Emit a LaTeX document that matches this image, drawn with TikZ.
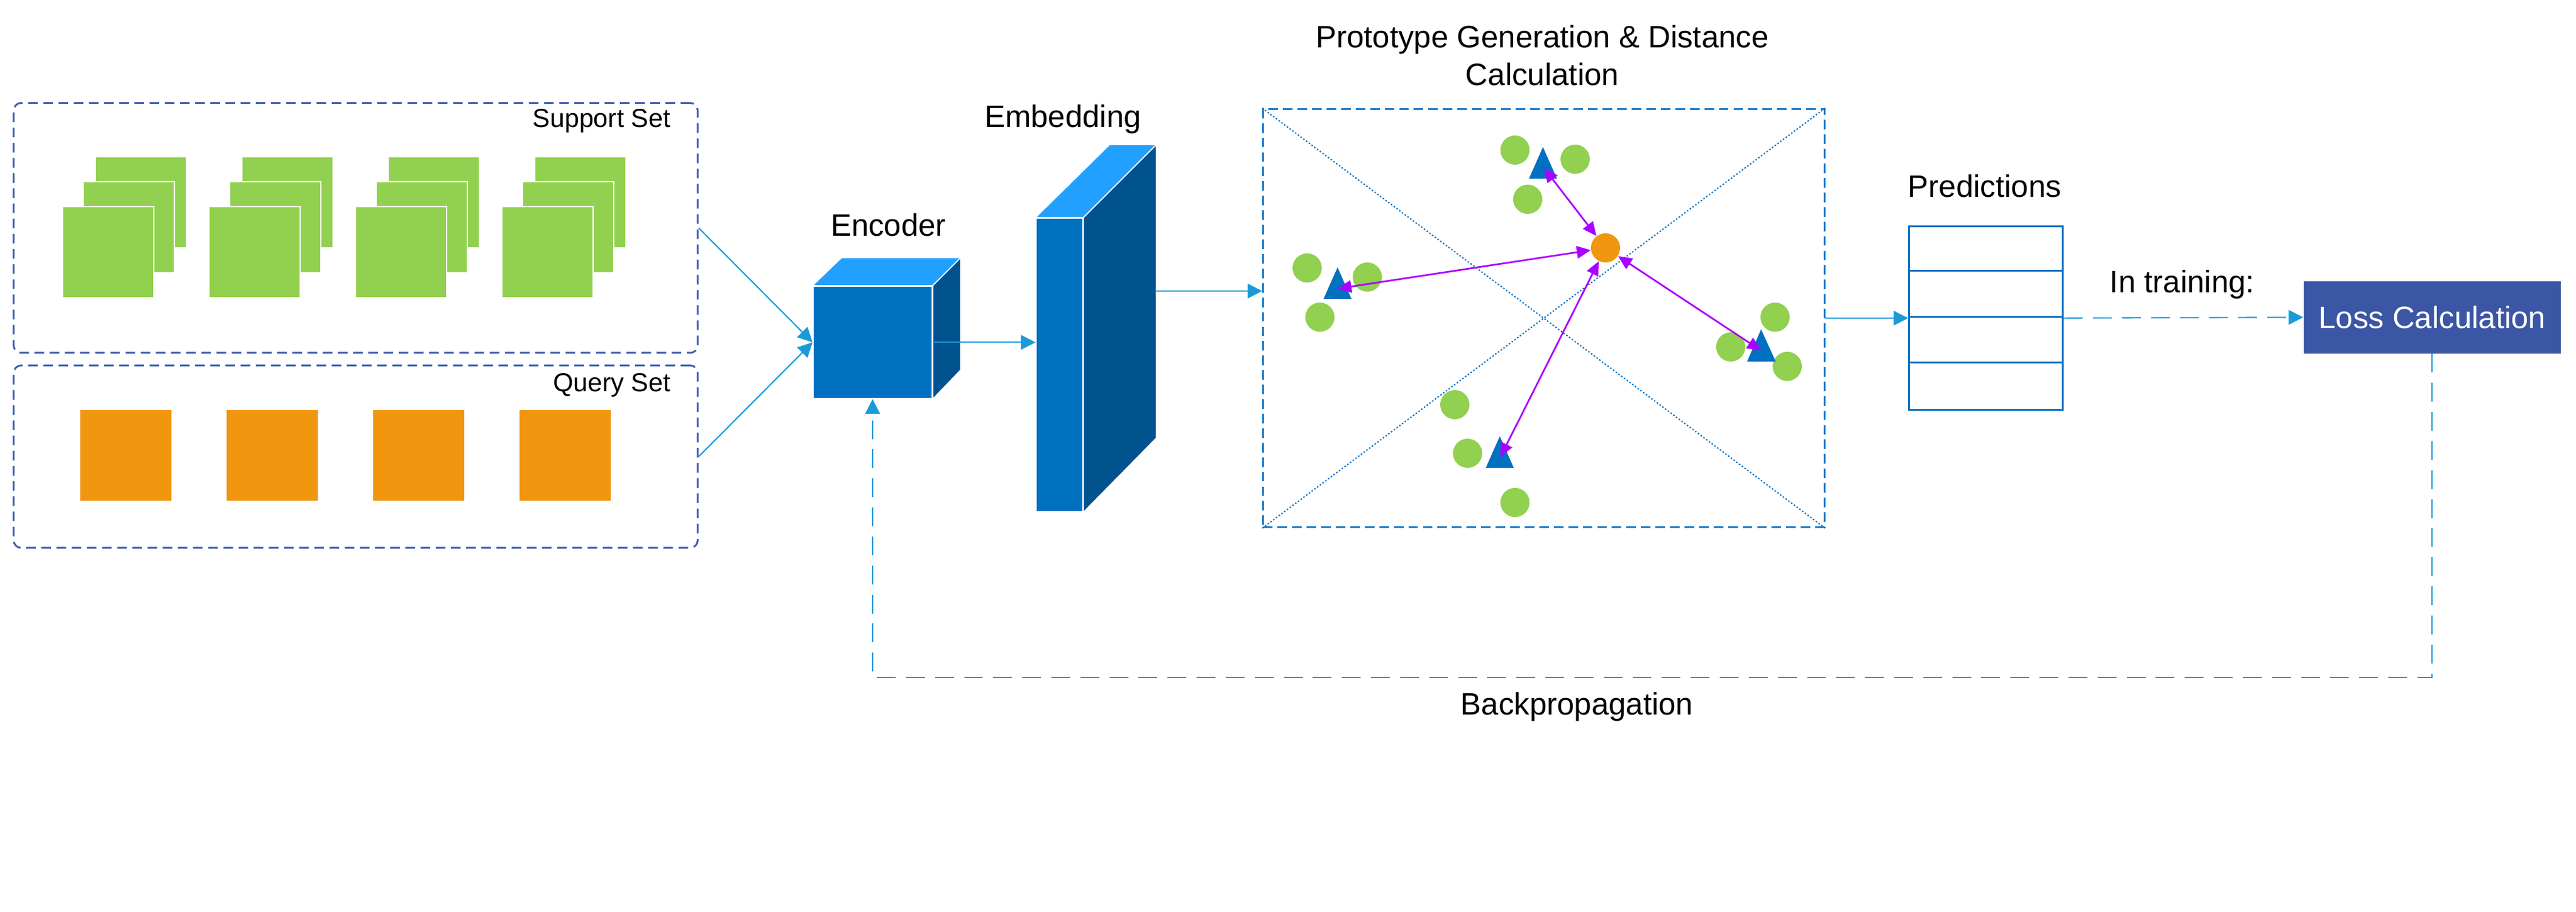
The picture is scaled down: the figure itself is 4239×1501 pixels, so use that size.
\documentclass[tikz,border=0pt]{standalone}
\usepackage{fontspec}
\setmainfont{Liberation Sans}
\usetikzlibrary{arrows.meta}
\definecolor{sqgreen}{HTML}{92D050}
\definecolor{sqorange}{HTML}{F0960F}
\definecolor{frontblue}{HTML}{0070C0}
\definecolor{topblue}{HTML}{21A0FF}
\definecolor{sideblue}{HTML}{00538E}
\definecolor{setborder}{HTML}{3F5FB0}
\definecolor{connblue}{HTML}{1B9AD8}
\definecolor{protoborder}{HTML}{1A7DCF}
\definecolor{lossblue}{HTML}{3B56A4}
\definecolor{arrpurple}{HTML}{AA00FF}
\begin{document}
\begin{tikzpicture}[x=0.01cm,y=-0.01cm,
  lbl/.style={font=\fontsize{14.5pt}{17.6pt}\selectfont, inner sep=0, anchor=base},
  slbl/.style={font=\fontsize{12.2pt}{14.6pt}\selectfont, inner sep=0, anchor=base east},
  setbox/.style={draw=setborder, line width=0.85pt, dash pattern=on 4.5pt off 2.6pt, rounded corners=3.5pt, inner sep=0, anchor=north west},
  gsq/.style={fill=sqgreen, draw=white, line width=0.5pt},
  osq/.style={fill=sqorange},
  face/.style={draw=white, line width=0.5pt},
  frontface/.style={fill=frontblue, face, inner sep=0, anchor=north west},
  conn/.style={draw=connblue, line width=0.6pt, -{Triangle[length=6.8pt,width=6.8pt]}},
  dconn/.style={conn, dash pattern=on 8.8pt off 4.8pt},
  diag/.style={draw=frontblue, line width=0.6pt, dash pattern=on 0.7pt off 0.9pt},
  gdot/.style={circle, fill=sqgreen, minimum size=0.48cm, inner sep=0},
  tri/.style={fill=frontblue},
  parr/.style={draw=arrpurple, line width=0.8pt, {Triangle[length=6.5pt,width=5.8pt]}-{Triangle[length=6.5pt,width=5.8pt]}},
  tblline/.style={draw=frontblue, line width=0.85pt}
]
\path[use as bounding box] (0,0) rectangle (4239,1501);

% ---------- support and query sets ----------
\node[setbox, minimum width=11.25cm, minimum height=4.11cm] (support) at (21,168) {};
\node[setbox, minimum width=11.25cm, minimum height=3.00cm] (qset) at (21,600) {};
\node[slbl] (suplbl) at (1104,210) {Support Set};
\node[slbl] (qlbl) at (1104,645) {Query Set};

\foreach \k in {0,1,2,3} {
  \filldraw[gsq] (157+241*\k,258) rectangle ++(150,150);
  \filldraw[gsq] (137+241*\k,299) rectangle ++(150,150);
  \filldraw[gsq] (103+241*\k,340) rectangle ++(150,150);
  \fill[osq] (132+241*\k,675) rectangle ++(150,149);
}

% ---------- encoder cube ----------
\node[frontface, minimum width=1.96cm, minimum height=1.85cm] (enc) at (1337,470) {};
\filldraw[fill=topblue, face] (enc.north west) -- (enc.north east) -- ++(46,-46) -- ++(-196,0) -- cycle;
\filldraw[fill=sideblue, face] (enc.north east) -- ++(46,-46) -- ++(0,185) -- (enc.south east) -- cycle;
\node[lbl] (enclbl) at (1462,389) {Encoder};

% ---------- embedding slab ----------
\node[frontface, minimum width=0.77cm, minimum height=4.83cm] (emb) at (1704,358) {};
\filldraw[fill=topblue, face] (emb.north west) -- (emb.north east) -- ++(120,-120) -- ++(-77,0) -- cycle;
\filldraw[fill=sideblue, face] (emb.north east) -- ++(120,-120) -- ++(0,483) -- (emb.south east) -- cycle;
\node[lbl] (emblbl) at (1749,210) {Embedding};
\coordinate (embout) at (1901,479);

% ---------- prototype space ----------
\node[draw=protoborder, line width=0.85pt, dash pattern=on 4.5pt off 2.3pt, minimum width=9.23cm, minimum height=6.88cm, inner sep=0, anchor=north west] (proto) at (2077,178) {};
\draw[diag] (proto.north west) -- (proto.south east);
\draw[diag] (proto.north east) -- (proto.south west);
\node[lbl] (ptitle1) at (2538,79) {Prototype Generation \& Distance};
\node[lbl] (ptitle2) at (2538,141) {Calculation};

\foreach \cx/\cy [count=\i] in {2493/247, 2592/262, 2514/328,
                               2151/441, 2250/456, 2172/522,
                               2921/522, 2848/571, 2941/603,
                               2394/666, 2415/746, 2493/827}
  \node[gdot] (g\i) at (\cx,\cy) {};

\fill[tri] (2539,242) -- (2562,294) -- (2516,294) -- cycle;
\fill[tri] (2201,440) -- (2224,492) -- (2178,492) -- cycle;
\fill[tri] (2898,542) -- (2922,595) -- (2875,595) -- cycle;
\fill[tri] (2468,718) -- (2491,770) -- (2445,770) -- cycle;
\coordinate (tT) at (2541,277);
\coordinate (tL) at (2201,475);
\coordinate (tR) at (2898,577);
\coordinate (tB) at (2469,752);

\node[circle, fill=sqorange, minimum size=0.48cm, inner sep=0] (qpt) at (2642,408) {};
\draw[parr] (qpt) -- (tT);
\draw[parr] (qpt) -- (tL);
\draw[parr] (qpt) -- (tR);
\draw[parr] (qpt) -- (tB);

% ---------- predictions ----------
\node[tblline, minimum width=2.53cm, minimum height=3.02cm, inner sep=0, anchor=north west] (pred) at (3140,371) {};
\foreach \ry in {446,522,597}
  \draw[tblline] (3140,\ry) -- (3393,\ry);
\node[lbl] (predlbl) at (3266,325) {Predictions};

% ---------- loss ----------
\node[fill=lossblue, text=white, font=\fontsize{14.5pt}{17.6pt}\selectfont, minimum width=4.23cm, minimum height=1.19cm, inner sep=0, anchor=north west] (loss) at (3790,462) {Loss Calculation};
\node[lbl] (trlbl) at (3591,482) {In training:};
\node[lbl] (bplbl) at (2595,1176) {Backpropagation};

% ---------- connectors ----------
\draw[conn] (support.east) -- (enc.west);
\draw[conn] (qset.east) -- (enc.west);
\draw[conn] (enc.east) -- (emb.west |- enc.east);
\draw[conn] (embout) -- (proto.west |- embout);
\draw[conn] (proto.east) -- (pred.west);
\draw[dconn] (pred.east) -- (loss.west);
\coordinate (bprow) at (0,1115);
\draw[dconn] (loss.south) -- (loss.south |- bprow) -- (enc.south |- bprow) -- (enc.south);
\end{tikzpicture}
\end{document}
